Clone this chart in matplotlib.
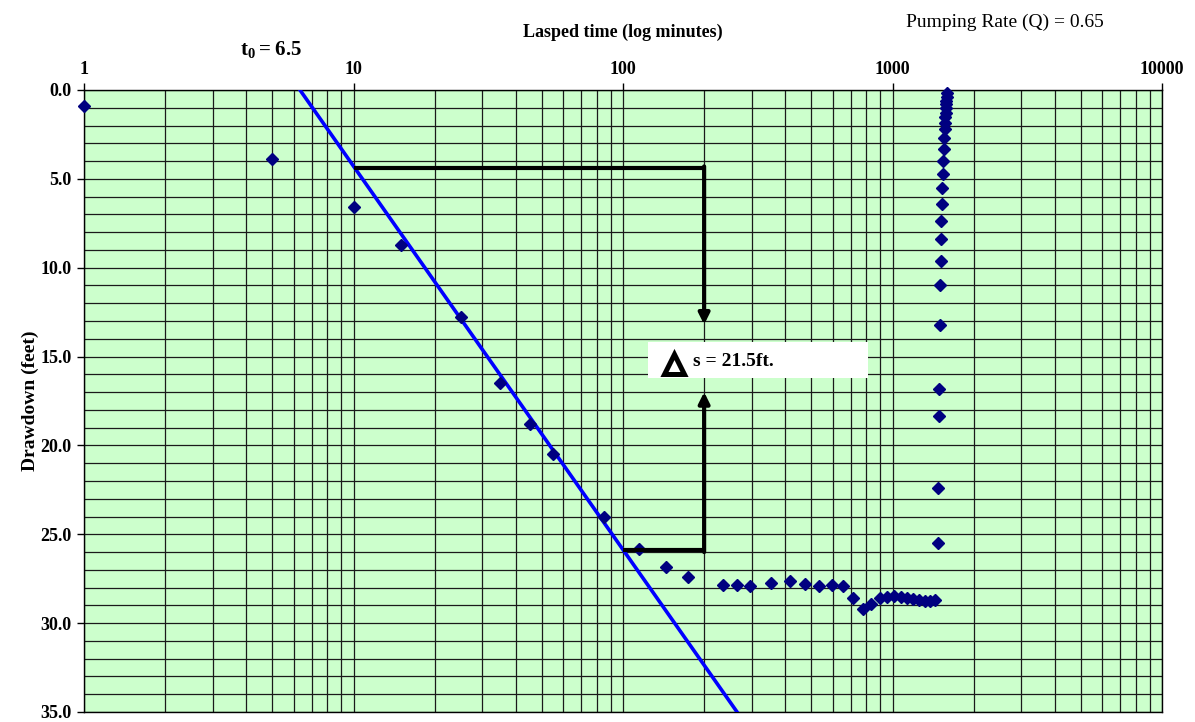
"""
Drawdown vs. log time (Cooper-Jacob straight line) for a pumping test.
"""
import numpy as np
import matplotlib
matplotlib.use('Agg')
import matplotlib.pyplot as plt
from matplotlib.ticker import MultipleLocator, FixedLocator, FormatStrFormatter, NullFormatter
from matplotlib.patches import Rectangle

plt.rcParams['font.family'] = ['Liberation Serif', 'DejaVu Serif']
plt.rcParams['mathtext.fontset'] = 'custom'
plt.rcParams['mathtext.rm'] = 'Liberation Serif'
plt.rcParams['mathtext.bf'] = 'Liberation Serif:bold'

# pumping phase (minutes, feet)
pump_time = [1, 5, 10, 15, 25, 35, 45, 55, 85, 115, 145, 175, 235, 265, 295,
             355, 415, 475, 535, 595, 655, 715, 775, 835, 895, 955, 1015,
             1075, 1135, 1195, 1255, 1315, 1375, 1435]
pump_draw = [0.9, 3.9, 6.6, 8.7, 12.8, 16.5, 18.8, 20.5, 24.0, 25.8, 26.85,
             27.4, 27.85, 27.85, 27.9, 27.75, 27.65, 27.8, 27.9, 27.85, 27.9,
             28.6, 29.2, 28.9, 28.6, 28.55, 28.5, 28.55, 28.6, 28.65, 28.7,
             28.75, 28.75, 28.7]

# recovery phase
rec_time = [1470, 1478, 1486, 1492, 1497, 1502, 1507, 1511, 1515, 1521, 1527,
            1533, 1538, 1548, 1555, 1560, 1566, 1570, 1574, 1578, 1581, 1584,
            1587, 1590]
rec_draw = [25.5, 22.4, 18.35, 16.8, 13.2, 11.0, 9.6, 8.4, 7.35, 6.4, 5.5,
            4.7, 3.98, 3.3, 2.7, 2.2, 1.84, 1.52, 1.28, 1.03, 0.8, 0.6, 0.38,
            0.15]

# straight line fit
fit_time = [6.33, 265]
fit_draw = [0.0, 35.0]

# delta-s bracket
top_s = 4.4
bot_s = 25.9
bracket_t = 200

x_ticks = [1, 10, 100, 1000, 10000]
x_labels = ['1', '10', '100', '1000', '10000']

fig = plt.figure(figsize=(11.95, 7.22), dpi=100)
ax = fig.add_axes([84 / 1195, 1 - 712 / 722, (1162 - 84) / 1195, (712 - 90) / 722])
ax.set_facecolor('#CCFFCC')

ax.set_xscale('log')
ax.set_xlim(1, 10000)
ax.set_ylim(35, 0)

ax.xaxis.tick_top()
ax.xaxis.set_major_locator(FixedLocator(x_ticks))
ax.set_xticklabels(x_labels)
ax.xaxis.set_minor_locator(FixedLocator([m * 10 ** d for d in range(4) for m in range(2, 10)]))
ax.xaxis.set_minor_formatter(NullFormatter())
ax.yaxis.set_major_locator(MultipleLocator(5))
ax.yaxis.set_minor_locator(MultipleLocator(1))
ax.yaxis.set_major_formatter(FormatStrFormatter('%.1f'))

ax.tick_params(which='major', direction='out', length=5, width=1, pad=4,
               labelsize=13)
ax.tick_params(which='minor', length=0)
for lab in ax.get_xticklabels() + ax.get_yticklabels():
    lab.set_fontweight('bold')

ax.grid(True, which='both', color='#1a1a1a', linewidth=0.9)
ax.set_axisbelow(True)
for sp in ax.spines.values():
    sp.set_color('black')
    sp.set_linewidth(1)

ax.xaxis.set_label_position('top')
ax.set_xlabel('Lasped time (log minutes)', fontsize=13, fontweight='bold', labelpad=17)
ax.set_ylabel('Drawdown (feet)', fontsize=14, fontweight='bold', labelpad=1)

# fitted line
ax.plot(fit_time, fit_draw, color='#0000FF', linewidth=2.6, zorder=3)

# data
ax.plot(pump_time, pump_draw, linestyle='none', marker='D', markersize=6.5,
        color='#000080', zorder=4, clip_on=False)
ax.plot(rec_time, rec_draw, linestyle='none', marker='D', markersize=6.5,
        color='#000080', zorder=4, clip_on=False)

# bracket with arrows
ax.plot([10, bracket_t], [top_s, top_s], color='black', linewidth=3,
        solid_capstyle='butt', zorder=5)
ax.plot([100, bracket_t], [bot_s, bot_s], color='black', linewidth=3,
        solid_capstyle='butt', zorder=5)
ax.annotate('', xy=(bracket_t, 13.2), xytext=(bracket_t, top_s - 0.1),
            arrowprops=dict(arrowstyle='-|>', color='black', lw=3,
                            mutation_scale=16, shrinkA=0, shrinkB=0), zorder=5)
ax.annotate('', xy=(bracket_t, 17.0), xytext=(bracket_t, bot_s + 0.1),
            arrowprops=dict(arrowstyle='-|>', color='black', lw=3,
                            mutation_scale=16, shrinkA=0, shrinkB=0), zorder=5)

# delta s label box
ax.add_patch(Rectangle((124, 14.2), 811 - 124, 2.0, facecolor='white',
                       edgecolor='none', zorder=6))
ax.plot([155], [15.4], marker='^', markersize=15, markerfacecolor='white',
        markeredgecolor='black', markeredgewidth=3.6, zorder=7)
ax.text(182, 15.25, 's = 21.5ft.', fontsize=14, fontweight='bold',
        va='center', ha='left', zorder=7)

fig.text(240 / 1195, 1 - 50 / 722, r'$\mathbf{t_0 = 6.5}$', fontsize=15,
         va='center', ha='left')
fig.text(906 / 1195, 1 - 22 / 722, 'Pumping Rate (Q) = 0.65', fontsize=14,
         va='center', ha='left')

fig.savefig('out.png', dpi=100)
